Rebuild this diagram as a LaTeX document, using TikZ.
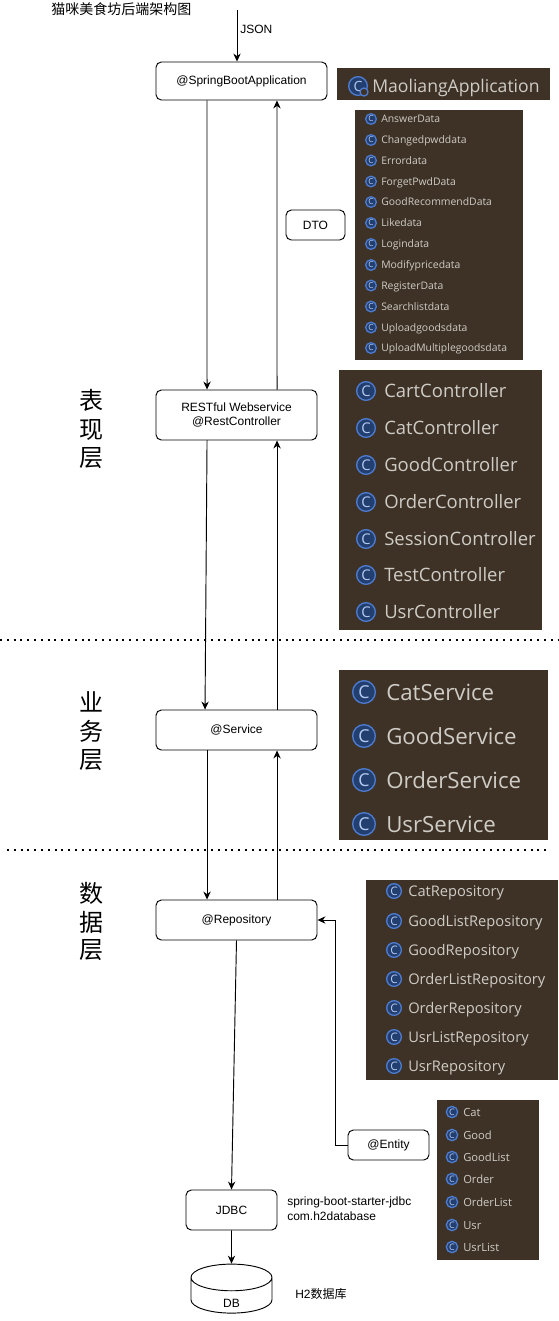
\documentclass[tikz,border=0pt]{standalone}
\usepackage{fontspec}
\setmainfont{Liberation Sans}
\newfontfamily\cjkfont{Noto Sans CJK SC}
\newfontfamily\ideafont{Open Sans}
\usetikzlibrary{arrows.meta, shapes.geometric}
\definecolor{panelbg}{HTML}{3E3226}
\definecolor{paneltext}{HTML}{CFCCC6}
\definecolor{iconring}{HTML}{4C7BD0}
\definecolor{iconfill}{HTML}{233F70}
\definecolor{iconletter}{HTML}{B4CBF2}
\tikzset{
	box/.style = {draw, line width = 0.7pt, rounded corners = 4pt, inner sep = 0, align = center, font = \fontsize{9}{11}\selectfont},
	plain/.style = {inner sep = 0, font = \fontsize{9}{11}\selectfont},
	layer/.style = {inner sep = 0, font = \cjkfont\fontsize{18}{18}\selectfont},
	panel/.style = {fill = panelbg, inner sep = 0, anchor = north west},
	classname/.style = {inner sep = 0, anchor = base west, text = paneltext},
	classicon/.style = {circle, draw = iconring, line width = 1pt, fill = iconfill, text = iconletter, inner sep = 0},
	link/.style = {->, line width = 0.7pt, >={Stealth[length = 6pt, width = 5.5pt]}},
	layerline/.style = {line width = 1.5pt, dash pattern = on 1.5pt off 3.6pt}
}
% #1 icon x, #2 text x, #3 icon size, #4 font size, #5 prefix, #6 rows
\newcommand{\classrows}[6]{
	\pgfmathsetmacro{\iconfont}{#4*0.8}
	\pgfmathsetmacro{\namedrop}{#4*0.36}
	\foreach \y/\name [count = \i] in {#6} {
		\node[classicon, minimum size = #3, font = \ideafont\fontsize{\iconfont}{\iconfont}\selectfont] (#5icon\i) at (#1, \y) {C};
		\node[classname, yshift = -\namedrop pt, font = \ideafont\fontsize{#4}{#4}\selectfont] (#5name\i) at (#2, \y) {\name};
	}
}

\begin{document}
\begin{tikzpicture}[x = 0.75pt, y = -0.75pt]
	\useasboundingbox (0, 0) rectangle (559, 1321);

	\node[plain, anchor = west, font = \cjkfont\fontsize{10.5}{12}\selectfont] (title) at (51, 9) {猫咪美食坊后端架构图};
	\coordinate (input) at (237, 10);

	\node[box, minimum width = 128.25pt, minimum height = 28.5pt] (app) at (241.5, 81) {@SpringBootApplication};
	\node[box, minimum width = 120.75pt, minimum height = 37.5pt] (rest) at (236.5, 415) {RESTful Webservice\\@RestController};
	\node[box, minimum width = 120.75pt, minimum height = 30pt] (service) at (236.5, 730) {@Service};
	\node[box, minimum width = 120.75pt, minimum height = 30pt] (repo) at (236.5, 920) {@Repository};
	\node[box, minimum width = 44.25pt, minimum height = 22.5pt] (dto) at (315.5, 225) {DTO};
	\node[box, minimum width = 60.75pt, minimum height = 22.5pt] (entity) at (388.5, 1145) {@Entity};
	\node[box, minimum width = 68.25pt, minimum height = 30pt] (jdbc) at (231.5, 1210) {JDBC};
	\node[draw, line width = 0.7pt, cylinder, shape border rotate = 90, aspect = 1.6, minimum width = 60.75pt, minimum height = 36.75pt, inner sep = 0, font = \fontsize{9}{11}\selectfont] (db) at (231.5, 1295.5) {\raisebox{-9pt}[0pt][0pt]{DB}};

	\node[plain, anchor = west] (jsonlabel) at (240, 29) {JSON};
	\node[plain, anchor = west, align = left] (jdbclabel) at (287, 1208.5) {spring-boot-starter-jdbc\\com.h2database};
	\node[plain, anchor = west] (h2label) at (295, 1294) {H2{\cjkfont 数据库}};

	\foreach \y/\txt [count = \i] in {400/表, 430/现, 458/层, 702/业, 731/务, 760/层, 893/数, 922/据, 950/层}
		\node[layer] (layer\i) at (91, \y) {\txt};

	\coordinate (lineaw) at (0, 640);
	\coordinate (lineae) at (559, 640);
	\coordinate (linebw) at (7, 850);
	\coordinate (linebe) at (548, 850);
	\draw[layerline] (lineaw) -- (lineae);
	\draw[layerline] (linebw) -- (linebe);

	\draw[link] (input) -- (input |- app.north);
	\draw[link] ([xshift = -25.9pt]app.south) -- ([xshift = -22.1pt]rest.north);
	\draw[link] ([xshift = 30.4pt]rest.north) -- ([xshift = 26.6pt]app.south);
	\draw[link] ([xshift = -22.1pt]rest.south) -- ([xshift = -23.6pt]service.north);
	\draw[link] ([xshift = 30.4pt]service.north) -- ([xshift = 30.4pt]rest.south);
	\draw[link] ([xshift = -22.1pt]service.south) -- ([xshift = -22.1pt]repo.north);
	\draw[link] ([xshift = 30.4pt]repo.north) -- ([xshift = 30.4pt]service.south);
	\draw[link] (repo.south) -- (jdbc.north);
	\draw[link] (jdbc.south) -- (db.north);
	\draw[link] (entity.west) -- ++(-12, 0) |- (repo.east);

	\node[panel, minimum width = 159.75pt, minimum height = 24pt] (apppanel) at (337, 68) {};
	\node[panel, minimum width = 126pt, minimum height = 187.5pt] (dtopanel) at (355, 110) {};
	\node[panel, minimum width = 152.25pt, minimum height = 195pt] (restpanel) at (339, 370) {};
	\node[panel, minimum width = 156.75pt, minimum height = 127.5pt] (servicepanel) at (339, 670) {};
	\node[panel, minimum width = 144pt, minimum height = 150pt] (repopanel) at (366, 880) {};
	\node[panel, minimum width = 76.5pt, minimum height = 120pt] (entitypanel) at (437, 1100) {};

	\classrows{358}{372}{14pt}{13.2}{app}{86/MaoliangApplication}
	\node[classicon, minimum size = 6pt, fill = panelbg] (appmark) at (364, 92) {};
	\classrows{371}{381}{8pt}{7.8}{dto}{119/AnswerData, 140/Changedpwddata, 160.5/Errordata, 181.5/ForgetPwdData, 202/GoodRecommendData, 223/Likedata, 244/Logindata, 265/Modifypricedata, 285.5/RegisterData, 306.5/Searchlistdata, 327.5/Uploadgoodsdata, 348/UploadMultiplegoodsdata}
	\classrows{366}{384}{14pt}{13.85}{rest}{391/CartController, 428/CatController, 465/GoodController, 502/OrderController, 539/SessionController, 575/TestController, 612/UsrController}
	\classrows{364}{386}{17pt}{16.7}{service}{692/CatService, 736/GoodService, 780/OrderService, 824/UsrService}
	\classrows{394}{408}{11pt}{11}{repo}{891/CatRepository, 921/GoodListRepository, 950/GoodRepository, 979/OrderListRepository, 1008/OrderRepository, 1037/UsrListRepository, 1066/UsrRepository}
	\classrows{452}{463}{8.5pt}{8.4}{entity}{1112/Cat, 1135/Good, 1157/GoodList, 1179/Order, 1202/OrderList, 1225/Usr, 1247/UsrList}
\end{tikzpicture}
\end{document}
